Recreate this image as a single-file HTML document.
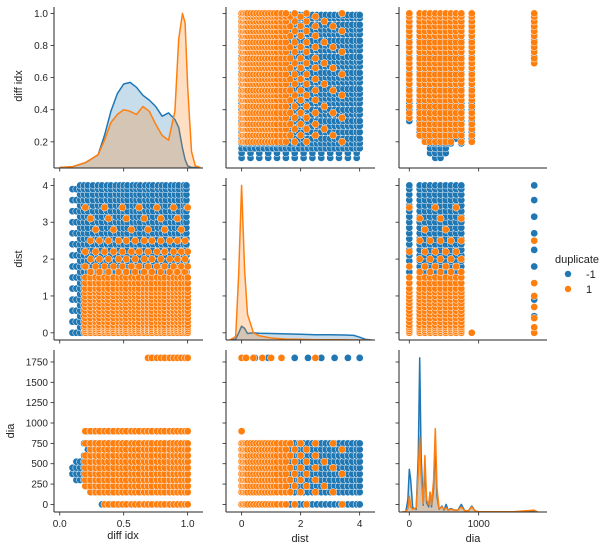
<!DOCTYPE html>
<html><head><meta charset="utf-8">
<style>
html,body{margin:0;padding:0;background:#fff;}
svg{display:block;font-family:"Liberation Sans","DejaVu Sans",sans-serif;}
</style></head>
<body>
<svg id="chart" width="609" height="550" viewBox="0 0 609 550" xmlns="http://www.w3.org/2000/svg">
<g id="marks"></g>
<g id="axes"></g>
<text x="22" y="86" font-size="11" fill="#222" text-anchor="middle" transform="rotate(-90 22 86)">diff idx</text>
<text x="22" y="259" font-size="11" fill="#222" text-anchor="middle" transform="rotate(-90 22 259)">dist</text>
<text x="14" y="431" font-size="11" fill="#222" text-anchor="middle" transform="rotate(-90 14 431)">dia</text>
<text x="123" y="539" font-size="11" fill="#222" text-anchor="middle">diff idx</text>
<text x="300" y="542" font-size="11" fill="#222" text-anchor="middle">dist</text>
<text x="473" y="542" font-size="11" fill="#222" text-anchor="middle">dia</text>
<g>
<text x="555" y="263" font-size="11" fill="#222">duplicate</text>
<circle cx="568" cy="274" r="3.5" fill="#1f77b4" stroke="#fff" stroke-width="0.6"/>
<text x="586" y="278" font-size="11" fill="#222">-1</text>
<circle cx="568" cy="289" r="3.5" fill="#ff7f0e" stroke="#fff" stroke-width="0.6"/>
<text x="586" y="293" font-size="11" fill="#222">1</text>
</g>
</svg>
<script>
// ---- data ----
const varNames = ['diff idx','dist','dia'];
const diaLevels = [0,150,225,300,375,450,525,600,675,750,900,1800];
const diaMinDiff = [0.32,0.23,0.2,0.12,0.08,0.1,0.12,0.17,0.22,0.17,0.2,0.68];
const blueDiff = [0.1,0.13,0.16,0.19,0.22,0.26,0.3,0.33,0.37,0.4,0.44,0.47,0.5,0.53,0.57,0.6,0.63,0.67,0.7,0.73,0.77,0.8,0.83,0.87,0.9,0.93,0.97,0.99];
const orangeDiff = [0.2,0.24,0.28,0.31,0.35,0.38,0.42,0.46,0.49,0.52,0.56,0.59,0.62,0.66,0.69,0.72,0.76,0.79,0.82,0.86,0.89,0.92,0.95,0.98,1.0];
const blueDist = [0,0.15,0.3,0.45,0.6,0.75,0.9,1.05,1.2,1.35,1.5,1.65,1.8,1.95,2.1,2.25,2.4,2.55,2.7,2.85,3.0,3.15,3.3,3.45,3.6,3.75,3.9,4.0];
const orangeDist = [0,0.05,0.1,0.15,0.2,0.3,0.4,0.5,0.6,0.7,0.8,0.9,1.0,1.1,1.2,1.35,1.5,1.65,1.8,2.0,2.2,2.5,2.8,3.1,3.4];
const kdeDiffX = [0,0.1,0.2,0.3,0.35,0.4,0.45,0.5,0.55,0.6,0.65,0.7,0.75,0.8,0.85,0.9,0.93,0.96,0.98,1.0,1.03,1.06,1.1];
const kdeDiffBlue = [0.04,0.045,0.07,0.12,0.24,0.39,0.5,0.56,0.57,0.54,0.49,0.46,0.42,0.36,0.38,0.34,0.29,0.16,0.09,0.05,0.04,0.04,0.04];
const kdeDiffOrange = [0.04,0.045,0.07,0.12,0.21,0.32,0.37,0.4,0.39,0.37,0.42,0.39,0.31,0.24,0.21,0.39,0.84,1.0,0.94,0.54,0.14,0.05,0.04];
const kdeDistX = [-0.4,-0.2,-0.1,0,0.1,0.2,0.4,0.6,1,1.5,2,2.5,3,3.5,3.8,4.0,4.2,4.4];
const kdeDistBlue = [-0.195,-0.17,0.0,0.18,0.12,-0.02,0.0,-0.01,-0.02,-0.03,-0.04,-0.05,-0.05,-0.06,-0.07,-0.12,-0.18,-0.195];
const kdeDistOrange = [-0.195,-0.1,1.6,4.0,1.7,0.5,0.0,-0.08,-0.14,-0.17,-0.18,-0.19,-0.19,-0.19,-0.195,-0.195,-0.195,-0.195];
const kdeDiaX = [-100,-50,-20,0,20,50,100,130,150,170,200,225,250,280,300,320,350,375,400,430,470,500,530,560,600,650,700,750,800,850,900,950,1000,1200,1500,1800,1850];
const kdeDiaBlue = [-93,-90,60,430,300,-40,-60,600,1800,600,-10,450,20,-30,150,-30,200,720,100,-60,-20,-70,0,-70,-50,-70,-70,0,-80,-80,-20,-80,-90,-90,-90,-90,-93];
const kdeDiaOrange = [-93,-90,-50,100,-30,-60,-40,400,820,350,10,600,60,0,150,0,300,930,200,-50,-30,-60,-40,-70,-60,-70,-70,-30,-80,-80,-30,-80,-90,-90,-90,-70,-93];
const xTickVals = [[0,0.5,1.0],[0,2,4],[0,1000]];
const xTickLabels = [['0.0','0.5','1.0'],['0','2','4'],['0','1000']];
const yTickVals = [[0.2,0.4,0.6,0.8,1.0],[0,1,2,3,4],[0,250,500,750,1000,1250,1500,1750]];
const yTickLabels = [['0.2','0.4','0.6','0.8','1.0'],['0','1','2','3','4'],['0','250','500','750','1000','1250','1500','1750']];

// ---- layout ----
const cols = [{p:[54,203],d:[-0.045,1.12]},{p:[226,375],d:[-0.53,4.52]},{p:[399,547],d:[-148,1984]}];
const rows = [{p:[168,7],d:[0.037,1.04]},{p:[340,178],d:[-0.195,4.2]},{p:[512,350],d:[-93,1897]}];
const NS='http://www.w3.org/2000/svg';
const marks=document.getElementById('marks'), axes=document.getElementById('axes');
const BLUE='#1f77b4', ORANGE='#ff7f0e';
function sx(c,v){const C=cols[c];return C.p[0]+(v-C.d[0])/(C.d[1]-C.d[0])*(C.p[1]-C.p[0]);}
function sy(r,v){const R=rows[r];return R.p[0]+(v-R.d[0])/(R.d[1]-R.d[0])*(R.p[1]-R.p[0]);}
function mk(tag,attrs,parent){const e=document.createElementNS(NS,tag);for(const k in attrs)e.setAttribute(k,attrs[k]);parent.appendChild(e);return e;}
function clip(r,c){
  const id='clip'+r+c;
  let defs=document.getElementById('defs');
  if(!defs){defs=mk('defs',{id:'defs'},document.getElementById('chart'));}
  const cp=mk('clipPath',{id:id},defs);
  mk('rect',{x:cols[c].p[0],y:rows[r].p[1],width:cols[c].p[1]-cols[c].p[0],height:rows[r].p[0]-rows[r].p[1]},cp);
  return 'url(#'+id+')';
}
const panels={};
for(let r=0;r<3;r++)for(let c=0;c<3;c++){
  const g=mk('g',{'clip-path':clip(r,c)},marks);
  
  
  panels[r+'-'+c]=g;
}
function dot(r,c,xv,yv,col){
  const e=mk('circle',{cx:sx(c,xv).toFixed(1),cy:sy(r,yv).toFixed(1),r:3.6,fill:col,stroke:'#fff','stroke-width':0.5},panels[r+'-'+c]);
  
  
}
const series=[{col:BLUE,diff:blueDiff,dist:blueDist},{col:ORANGE,diff:orangeDiff,dist:orangeDist}];
function keep(s,dist,k){
  if(s.col!==ORANGE) return true;
  if(dist>=2.6) return k%4===0;
  if(dist>=1.6) return k%2===0;
  return true;
}
series.forEach(s=>{
  // diff vs dist
  s.diff.forEach((a,i)=>s.dist.forEach((b,j)=>{
    if(s.col===BLUE && a<0.15 && j%2) return;
    if(!keep(s,b,i+j)) return;
    dot(1,0,a,b,s.col);dot(0,1,b,a,s.col);
  }));
  // dia vs diff
  diaLevels.forEach((L,i)=>s.diff.forEach(a=>{if(a>=diaMinDiff[i]){dot(2,0,a,L,s.col);dot(0,2,L,a,s.col);}}));
  // dia vs dist
  diaLevels.forEach((L,i)=>s.dist.forEach((b,j)=>{
    if(L===900 && !(s.col===ORANGE && b===0)) return;
    if(L===1800 && j%3!==0) return;
    if(!keep(s,b,i+j)) return;
    dot(2,1,b,L,s.col);dot(1,2,L,b,s.col);
  }));
});
function kde(r,c,xs,ys,col,name){
  const base=rows[r].d[0];
  let d='M'+sx(c,xs[0]).toFixed(1)+','+sy(r,base).toFixed(1);
  let line='';
  xs.forEach((x,i)=>{const p=sx(c,x).toFixed(1)+','+sy(r,ys[i]).toFixed(1);d+='L'+p;line+=(i?'L':'M')+p;});
  d+='L'+sx(c,xs[xs.length-1]).toFixed(1)+','+sy(r,base).toFixed(1)+'Z';
  const f=mk('path',{d:d,fill:col,'fill-opacity':0.25,stroke:'none'},panels[r+'-'+c]);
  
  
  const l=mk('path',{d:line,fill:'none',stroke:col,'stroke-width':1.5,'stroke-linejoin':'round'},panels[r+'-'+c]);
  
  
}
kde(0,0,kdeDiffX,kdeDiffBlue,BLUE,'kde-diff-neg1');
kde(0,0,kdeDiffX,kdeDiffOrange,ORANGE,'kde-diff-1');
kde(1,1,kdeDistX,kdeDistBlue,BLUE,'kde-dist-neg1');
kde(1,1,kdeDistX,kdeDistOrange,ORANGE,'kde-dist-1');
kde(2,2,kdeDiaX,kdeDiaBlue,BLUE,'kde-dia-neg1');
kde(2,2,kdeDiaX,kdeDiaOrange,ORANGE,'kde-dia-1');
// axes
for(let r=0;r<3;r++)for(let c=0;c<3;c++){
  const x0=cols[c].p[0],x1=cols[c].p[1],yb=rows[r].p[0],yt=rows[r].p[1];
  const ax=mk('line',{x1:x0,y1:yt,x2:x0,y2:yb,stroke:'#262626','stroke-width':1},axes);
  
  
  const bx=mk('line',{x1:x0,y1:yb,x2:x1,y2:yb,stroke:'#262626','stroke-width':1},axes);
  
  
  xTickVals[c].forEach((v,i)=>{
    const x=sx(c,v);
    const t=mk('line',{x1:x,y1:yb,x2:x,y2:yb+3.5,stroke:'#262626','stroke-width':0.8},axes);
    
    
    if(r===2){
      const tx=mk('text',{x:x,y:yb+15,'font-size':10,fill:'#262626','text-anchor':'middle'},axes);
      tx.textContent=xTickLabels[c][i];
      
      
    }
  });
  yTickVals[r].forEach((v,i)=>{
    const y=sy(r,v);
    const t=mk('line',{x1:x0-3.5,y1:y,x2:x0,y2:y,stroke:'#262626','stroke-width':0.8},axes);
    
    
    if(c===0){
      const ty=mk('text',{x:x0-6,y:y+3.5,'font-size':10,fill:'#262626','text-anchor':'end'},axes);
      ty.textContent=yTickLabels[r][i];
      
      
    }
  });
}
</script>
</body></html>
